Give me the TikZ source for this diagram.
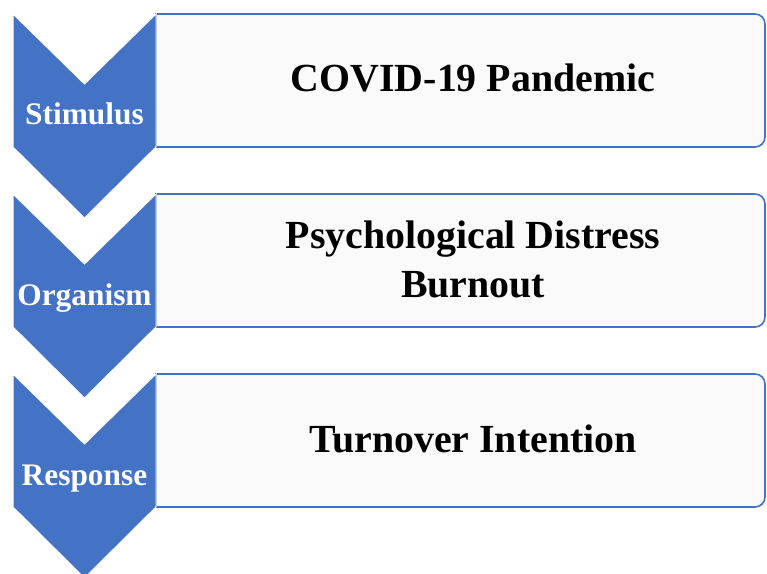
\documentclass[tikz,border=0pt]{standalone}
\usepackage{fontspec}
\setmainfont{Liberation Serif}
\definecolor{sblue}{HTML}{4472C4}
\definecolor{boxfill}{HTML}{FAFAFA}
\tikzset{
  chev/.style={fill=sblue, draw=white, line width=1bp},
  listbox/.style={fill=boxfill, draw=sblue, line width=1.6bp},
  lab/.style={text=white, font=\fontsize{31.5}{36}\selectfont\bfseries, anchor=base, inner sep=0pt},
  maintext/.style={font=\fontsize{40}{49}\selectfont\bfseries, anchor=base, inner sep=0pt}
}
\begin{document}
\begin{tikzpicture}[x=1bp,y=-1bp]
\useasboundingbox (0,0) rectangle (767,574);
\clip (0,0) rectangle (767,574);
\fill[white] (0,0) rectangle (767,574);
\foreach \o in {0,180,360} {
  \path[listbox] (156,14+\o) -- (755,14+\o) arc(-90:0:10) -- (765,137+\o) arc(0:90:10) -- (156,147+\o) -- cycle;
  \path[chev] (13,14+\o) -- (84.5,84+\o) -- (156,14+\o) -- (156,147+\o) -- (84.5,218+\o) -- (13,147+\o) -- cycle;
}
\node[lab] (stim) at (84.5,125) {Stimulus};
\node[lab] (org) at (84.5,305) {Organism};
\node[lab] (resp) at (84.5,485) {Response};
\node[maintext] (covid) at (473,92) {COVID-19 Pandemic};
\node[maintext] (psych) at (473,248) {Psychological Distress};
\node[maintext] (burn) at (473,297) {Burnout};
\node[maintext] (turn) at (473,452) {Turnover Intention};
\end{tikzpicture}
\end{document}
